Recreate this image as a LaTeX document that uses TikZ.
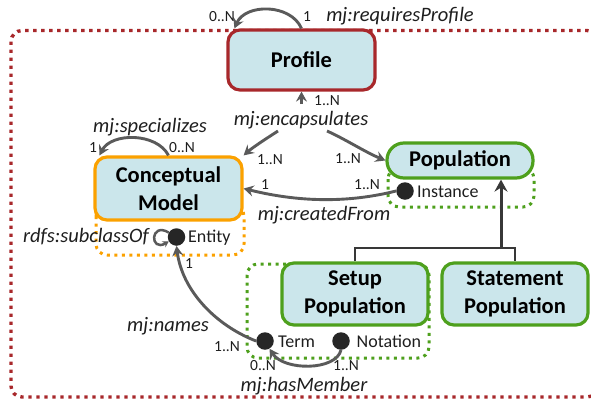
\documentclass[tikz,border=0pt]{standalone}
\usepackage{fontspec}
\setmainfont{Carlito}
\usetikzlibrary{arrows.meta,calc}
\definecolor{boxfill}{HTML}{CBE6EB}
\definecolor{profred}{HTML}{A8282B}
\definecolor{cmorange}{HTML}{FBA100}
\definecolor{popgreen}{HTML}{4EA01D}
\definecolor{dotc}{HTML}{262626}
\definecolor{arrowgray}{HTML}{5A5A5A}
\definecolor{inhgray}{HTML}{383838}
\definecolor{txt}{HTML}{1E1E1E}
\tikzset{
  box/.style={draw, line width=3.2pt, fill=boxfill, rounded corners=12pt,
    font=\fontsize{22.5}{28.5}\selectfont\bfseries, align=center, inner sep=0pt, text=black},
  lab/.style={font=\fontsize{20.5}{24}\selectfont\itshape, text=txt, inner sep=0pt},
  mult/.style={font=\fontsize{15.5}{18}\selectfont, text=txt, inner sep=0pt},
  small/.style={font=\fontsize{18}{20}\selectfont, text=txt, inner sep=0pt, anchor=west},
  dotnode/.style={circle, fill=dotc, minimum size=17.5pt, inner sep=0pt},
  garrow/.style={draw=arrowgray, line width=2.9pt, -{Stealth[length=10pt,width=11pt,inset=3.5pt]}},
  inhline/.style={draw=inhgray, line width=2.8pt},
  inharrow/.style={draw=inhgray, line width=3pt, -{Stealth[length=12pt,width=13pt,inset=4pt]}},
  region/.style={line width=3pt, dash pattern=on 3pt off 4.5pt, rounded corners=11pt},
}
\begin{document}
\begin{tikzpicture}[x=1pt,y=-1pt]
\useasboundingbox (0,0) rectangle (591,399);
% outer red dotted region
\draw[region, draw=profred, line width=3.4pt, dash pattern=on 3.4pt off 4.6pt] (11,30.5) rectangle (598,397);
% dotted sub regions
\draw[region, draw=cmorange] (96,205) rectangle (244,255);
\draw[region, draw=popgreen] (388,168) rectangle (534,207);
\draw[region, draw=popgreen] (247,264) rectangle (429,358);

% boxes
\node[box, draw=profred, minimum width=147pt, minimum height=60pt] (profile) at (301.5,60) {Profile};
\node[box, draw=cmorange, minimum width=147pt, minimum height=63pt] (cm) at (168.5,188.5) {Conceptual\\Model};
\node[box, draw=popgreen, rounded corners=17pt, minimum width=146pt, minimum height=35pt] (population) at (460,160.5) {Population};
\node[box, draw=popgreen, minimum width=146pt, minimum height=62pt] (setup) at (355,294) {Setup\\Population};
\node[box, draw=popgreen, minimum width=146pt, minimum height=62pt] (statement) at (515,294) {Statement\\Population};

% dots and their labels
\node[dotnode] (entity) at (176.5,237) {};
\node[small] (entitylbl) at (188,238) {Entity};
\node[dotnode] (instance) at (405,191) {};
\node[small] (instancelbl) at (417,191.5) {Instance};
\node[dotnode] (term) at (265,341) {};
\node[small] (termlbl) at (278,341.5) {Term};
\node[dotnode] (notation) at (341,341) {};
\node[small] (notationlbl) at (356.5,341.5) {Notation};

% requiresProfile self loop
\draw[garrow] (profile.north) .. controls +(-11,-25) and +(11,-25) .. ([xshift=8pt]profile.north west);
\node[mult] (m1) at (222,17) {0..N};
\node[mult] (m2) at (307,17) {1};
\node[lab] (reqp) at (400,16) {mj:requiresProfile};

% specializes self loop
\draw[garrow] (cm.north) .. controls +(-12,-23) and +(12,-23) .. ([xshift=6pt]cm.north west);
\node[mult] (m3) at (93,148) {1};
\node[mult] (m4) at (182,148) {0..N};
\node[lab] (spec) at (150,127) {mj:specializes};

% encapsulates
\node[lab] (enc) at (301,120) {mj:encapsulates};
\coordinate (encup) at (301.5,104);
\coordinate (encl) at (278,131);
\coordinate (encr) at (327,131);
\draw[garrow] (encup) -- (profile.south);
\draw[garrow] (encl) .. controls (264,140) and (252,148) .. (cm.north east);
\draw[garrow] (encr) .. controls (345,139) and (365,152) .. (population.west);
\node[mult] (m5) at (327,100.5) {1..N};
\node[mult] (m6) at (270,160) {1..N};
\node[mult] (m7) at (348,159) {1..N};

% createdFrom
\draw[garrow] (instance.west) .. controls (340,205) and (290,200) .. (cm.east);
\node[mult] (m8) at (265,185) {1};
\node[mult] (m9) at (367,185) {1..N};
\node[lab] (cf) at (324,215) {mj:createdFrom};

% subclassOf small loop
\draw[draw=arrowgray, line width=2.5pt, -{Stealth[length=6pt,width=7pt,inset=2pt]}] (entity.150) .. controls +(-19,-11) and +(-19,11) .. (entity.210);
\node[lab] (sub) at (86,237) {rdfs:subclassOf};

% names
\draw[garrow] (term.west) .. controls (215,325) and (182,290) .. (entity.south);
\node[mult] (m10) at (189,264) {1};
\node[mult] (m11) at (227,347) {1..N};
\node[lab] (names) at (168,326) {mj:names};

% hasMember
\draw[garrow] (notation.south) .. controls (336,371) and (284,371) .. (term.-60);
\node[mult] (m12) at (263,366) {0..N};
\node[mult] (m13) at (346,366) {1..N};
\node[lab] (hm) at (304,386) {mj:hasMember};

% inheritance
\coordinate (junction) at (501,248);
\draw[inhline] (setup.north) |- (junction) -| (statement.north);
\draw[inharrow] (junction) -- (junction |- population.south);
\end{tikzpicture}
\end{document}
